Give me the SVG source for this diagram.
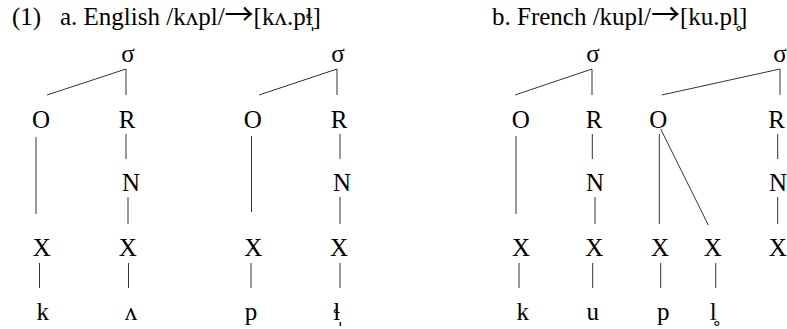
<svg xmlns="http://www.w3.org/2000/svg" width="787" height="329" viewBox="0 0 787 329" font-family="'Liberation Serif', 'Times New Roman', 'DejaVu Serif', serif">
  <style>
    text { font-family: 'Liberation Serif', 'Times New Roman', 'DejaVu Serif', serif; fill: #000; }
    .title { font-size: 25px; }
    .arrow { font-family: 'Noto Sans CJK JP', 'DejaVu Sans', sans-serif; font-size: 29px; }
    .lab { font-size: 25px; text-anchor: middle; }
    .seg { font-size: 25px; text-anchor: middle; }
    .edges line { stroke: #333; stroke-width: 1; fill: none; }
  </style>
  <rect width="787" height="329" fill="#fff"/>

  <g id="titles">
    <text class="title" x="12" y="25">(1)</text>
    <text class="title" x="60" y="25">a. English /kʌpl/<tspan class="arrow">→</tspan>[kʌ.pɬ̩]</text>
    <text class="title" x="492" y="25">b. French /kupl/<tspan class="arrow">→</tspan>[ku.pl̥]</text>
  </g>

  <g class="edges" id="connectors">
    <!-- a, syllable 1 -->
    <line x1="126" y1="69" x2="47" y2="95"/>
    <line x1="126" y1="69" x2="126" y2="95"/>
    <line x1="36" y1="137" x2="36" y2="214"/>
    <line x1="126" y1="134" x2="126" y2="159"/>
    <line x1="128" y1="197" x2="128" y2="224"/>
    <line x1="39.5" y1="263" x2="39.5" y2="288"/>
    <line x1="128.5" y1="263" x2="128.5" y2="288"/>
    <!-- a, syllable 2 -->
    <line x1="337" y1="69" x2="259" y2="95"/>
    <line x1="337" y1="69" x2="337" y2="95"/>
    <line x1="251.5" y1="136" x2="251.5" y2="212"/>
    <line x1="340" y1="134" x2="340" y2="159"/>
    <line x1="340" y1="197" x2="340" y2="224"/>
    <line x1="251" y1="263" x2="251" y2="288"/>
    <line x1="340" y1="263" x2="340" y2="288"/>
    <!-- b, syllable 1 -->
    <line x1="592" y1="69" x2="515" y2="95"/>
    <line x1="592" y1="69" x2="592" y2="95"/>
    <line x1="516" y1="136" x2="516" y2="214"/>
    <line x1="592.3" y1="134" x2="592.3" y2="159"/>
    <line x1="595" y1="197" x2="595" y2="224"/>
    <line x1="519" y1="263" x2="519" y2="288"/>
    <line x1="592.7" y1="263" x2="592.7" y2="288"/>
    <!-- b, syllable 2 -->
    <line x1="780" y1="69" x2="661.7" y2="95"/>
    <line x1="780" y1="69" x2="780" y2="95"/>
    <line x1="659.3" y1="134" x2="659.3" y2="224"/>
    <line x1="660.7" y1="129" x2="708.3" y2="225"/>
    <line x1="777.7" y1="134" x2="777.7" y2="159"/>
    <line x1="777.7" y1="197" x2="777.7" y2="224"/>
    <line x1="660.7" y1="263" x2="660.7" y2="288"/>
    <line x1="715.7" y1="263" x2="715.7" y2="288"/>
  </g>

  <!-- a, syllable 1 -->
  <g id="a1-sigma"><text class="lab" x="128" y="62">σ</text></g>
  <g id="a1-O"><text class="lab" x="41" y="128">O</text></g>
  <g id="a1-R"><text class="lab" x="127" y="128">R</text></g>
  <g id="a1-N"><text class="lab" x="131" y="191">N</text></g>
  <g id="a1-X1"><text class="lab" x="41.7" y="256">X</text></g>
  <g id="a1-X2"><text class="lab" x="127.7" y="256">X</text></g>
  <g id="a1-k"><text class="seg" x="42.7" y="320">k</text></g>
  <g id="a1-v"><text class="seg" x="131" y="320">ʌ</text></g>

  <!-- a, syllable 2 -->
  <g id="a2-sigma"><text class="lab" x="338" y="62">σ</text></g>
  <g id="a2-O"><text class="lab" x="252.7" y="128">O</text></g>
  <g id="a2-R"><text class="lab" x="339" y="128">R</text></g>
  <g id="a2-N"><text class="lab" x="342" y="191">N</text></g>
  <g id="a2-X1"><text class="lab" x="253.3" y="256">X</text></g>
  <g id="a2-X2"><text class="lab" x="339" y="256">X</text></g>
  <g id="a2-p"><text class="seg" x="251" y="320">p</text></g>
  <g id="a2-l"><text class="seg" x="336.7" y="320">ɬ̩</text></g>

  <!-- b, syllable 1 -->
  <g id="b1-sigma"><text class="lab" x="593" y="62">σ</text></g>
  <g id="b1-O"><text class="lab" x="520.7" y="128">O</text></g>
  <g id="b1-R"><text class="lab" x="594" y="128">R</text></g>
  <g id="b1-N"><text class="lab" x="595" y="191">N</text></g>
  <g id="b1-X1"><text class="lab" x="521" y="256">X</text></g>
  <g id="b1-X2"><text class="lab" x="594.3" y="256">X</text></g>
  <g id="b1-k"><text class="seg" x="522.7" y="320">k</text></g>
  <g id="b1-u"><text class="seg" x="592.7" y="320">u</text></g>

  <!-- b, syllable 2 -->
  <g id="b2-sigma"><text class="lab" x="780" y="62">σ</text></g>
  <g id="b2-O"><text class="lab" x="658.3" y="128">O</text></g>
  <g id="b2-R"><text class="lab" x="776.7" y="128">R</text></g>
  <g id="b2-N"><text class="lab" x="778" y="191">N</text></g>
  <g id="b2-X1"><text class="lab" x="660" y="256">X</text></g>
  <g id="b2-X2"><text class="lab" x="712.7" y="256">X</text></g>
  <g id="b2-X3"><text class="lab" x="777.7" y="256">X</text></g>
  <g id="b2-p"><text class="seg" x="663.3" y="320">p</text></g>
  <g id="b2-l"><text class="seg" x="713.3" y="320">l̥</text></g>
</svg>
